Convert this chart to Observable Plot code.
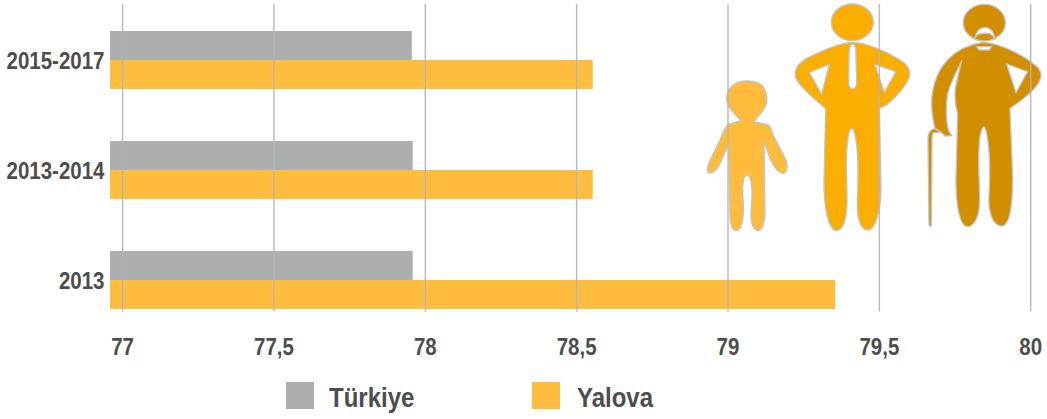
<!DOCTYPE html>
<html>
<head>
<meta charset="utf-8">
<script src="https://cdn.jsdelivr.net/npm/d3@7"></script>
<script src="https://cdn.jsdelivr.net/npm/@observablehq/plot@0.6"></script>
<style>
  html, body { margin: 0; padding: 0; background: #fff; }
  #chart svg { display: block; }
  #legend { position: relative; height: 47px; font: bold 24px "Liberation Sans", sans-serif; color: #4d4d4d; }
  #legend span { position: absolute; }
  #legend .sw { top: 9.7px; width: 27.7px; height: 27.7px; }
  #legend .lb { top: 12.2px; line-height: 29px; transform: scaleY(1.18); transform-origin: 0 22.8px; }
</style>
</head>
<body>
<div id="chart"></div>
<div id="legend"></div>
<script>
const periods = ["2015-2017", "2013-2014", "2013"];
const seriesNames = ["Türkiye", "Yalova"];
const turkiyeValues = [77.957, 77.96, 77.96];
const yalovaValues = [78.555, 78.555, 79.356];
const xTicks = [77, 77.5, 78, 78.5, 79, 79.5, 80];
const axisStart = 76.96;
const seriesColors = ["#adafae", "#ffbd40"];

const turkiyeRows = periods.map((period, i) => ({period, series: seriesNames[0], value: turkiyeValues[i]}));
const yalovaRows = periods.map((period, i) => ({period, series: seriesNames[1], value: yalovaValues[i]}));

const fontFamily = '"Liberation Sans", Arial, sans-serif';
const halfBar = 29;

// Decorative pictograms (child, adult, elder with cane), drawn in the plot's SVG.
const figures = [
  {fill: "#ffbb3c", d: "M122 360C95 335 78 315 80 295C82 262 105 243 141 243C170 243 185 250 192 265C203 285 205 305 193 325C185 340 170 352 162 365L205 375C213 380 215 395 222 410L258 480C264 495 262 518 250 520C235 522 222 500 212 480L192 425L195 640C195 670 185 692 175 692C160 692 152 670 153 640C154 610 158 590 155 560C153 535 147 526 141 526C133 526 129 540 128 565C127 590 132 610 130 640C128 670 122 692 110 692C95 692 90 670 90 640L86 430L65 480C55 505 42 520 28 520C20 520 22 500 28 485L60 420C70 395 75 380 85 373L122 362Z"},
  {fill: "#fbae02", d: "M394 67A63 55 0 1 0 520 67A63 55 0 1 0 394 67Z"},
  {fill: "#fbae02", d: "M457 127C500 128 560 155 600 180C625 195 632 215 628 232C620 255 590 290 565 310C555 320 545 322 538 325L543 560C543 620 530 690 503 690C480 690 470 650 472 600C475 540 475 470 468 420C465 395 458 385 456 385C450 385 445 400 442 430C435 490 443 560 441 610C440 660 428 692 410 692C385 692 372 620 372 550L377 327C350 300 300 265 288 235C280 210 295 190 320 175C370 150 420 128 457 127Z M328 217L388 193L365 283Z M525 193L588 215L553 278Z M457 133C468 133 468 150 468 170L470 250C468 272 448 272 446 250L447 170C447 150 447 133 457 133Z"},
  {fill: "#d18f00", d: "M790 68A63 55 0 1 0 916 68A63 55 0 1 0 790 68Z M823 115C830 90 840 82 855 82C870 82 880 92 885 115L875 105C870 98 840 98 832 105Z"},
  {fill: "#d18f00", d: "M850 127C900 130 970 165 1005 195C1025 210 1028 230 1015 250C1000 275 960 305 930 325L938 530C938 610 930 678 905 678C880 678 865 640 867 590C870 530 872 470 862 410C858 385 853 380 851 380C845 385 840 400 838 430C832 500 842 570 838 620C835 655 820 680 803 680C780 680 768 620 768 540L773 340C765 315 762 290 768 255L785 182C770 215 750 250 742 285C738 320 738 360 745 390L755 407L735 408C725 395 712 388 705 385C695 345 692 310 698 275C710 200 760 140 850 127Z M920 192L983 215L948 278Z M830 140L875 140L868 150L838 150Z"},
  {fill: "#d18f00", d: "M693 680L687 675L684 415C685 395 695 385 707 387L722 398L700 398C695 405 696 415 696 430L694 675Z"}
];

function pictograms() {
  const g = d3.create("svg:g").attr("transform", "translate(700,0) scale(0.3333)");
  g.selectAll("path").data(figures).join("path")
    .attr("d", d => d.d)
    .attr("fill", d => d.fill)
    .attr("fill-rule", "evenodd")
    .attr("stroke", "#c4c4c4")
    .attr("stroke-width", 4);
  return g.node();
}

const chart = Plot.plot({
  width: 1047,
  height: 372,
  marginLeft: 110,
  marginRight: 16.8,
  marginTop: 4,
  marginBottom: 60.5,
  style: {fontFamily, background: "#fff"},
  x: {domain: [axisStart, 80], ticks: xTicks},
  y: {domain: periods, paddingInner: 52 / 110, paddingOuter: 29 / 220, align: 27 / 29, label: null},
  color: {domain: seriesNames, range: seriesColors},
  marks: [
    pictograms,
    Plot.barX(turkiyeRows, {x1: () => axisStart, x2: "value", y: "period", fill: "series", insetBottom: halfBar}),
    Plot.barX(yalovaRows, {x1: () => axisStart, x2: "value", y: "period", fill: "series", insetTop: halfBar}),
    Plot.gridX(xTicks, {stroke: "#b5b5b5", strokeOpacity: 0.9, strokeWidth: 1.5}),
    Plot.axisX(xTicks, {
      anchor: "bottom", tickSize: 0, tickPadding: 27, label: null,
      tickFormat: d => String(d).replace(".", ","),
      fontSize: 20.5, fontWeight: "bold", fill: "#4d4d4d"
    }),
    Plot.axisY({
      anchor: "left", tickSize: 0, tickPadding: 6, dy: 1, label: null,
      fontSize: 20.5, fontWeight: "bold", fill: "#4d4d4d"
    })
  ]
});
// The reference's labels are set in a taller, narrower face: stretch them vertically.
chart.querySelectorAll('[aria-label$="tick label"] text').forEach(t => {
  const tr = t.getAttribute("transform");
  if (tr) t.setAttribute("transform", tr + " scale(1,1.13)");
});
document.getElementById("chart").append(chart);

const legendSwatchX = [286, 532];
const legendLabelX = [329, 577];
const legend = d3.select("#legend");
seriesNames.forEach((name, i) => {
  legend.append("span").attr("class", "sw")
    .style("left", legendSwatchX[i] + "px").style("background", seriesColors[i]);
  legend.append("span").attr("class", "lb")
    .style("left", legendLabelX[i] + "px").text(name);
});
</script>
</body>
</html>
